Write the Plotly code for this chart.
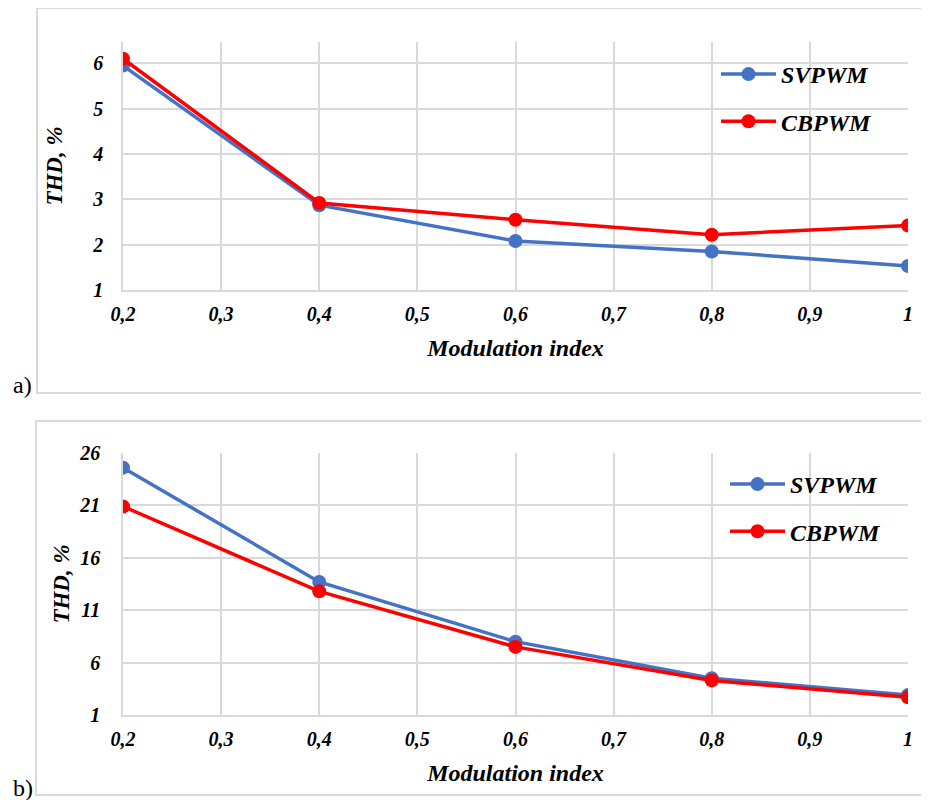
import plotly.graph_objects as go

x_vals = [0.2, 0.4, 0.6, 0.8, 1.0]
svpwm_a = [5.95, 2.87, 2.08, 1.85, 1.53]
cbpwm_a = [6.10, 2.92, 2.55, 2.22, 2.42]
svpwm_b = [24.6, 13.7, 8.0, 4.5, 2.9]
cbpwm_b = [20.9, 12.8, 7.5, 4.3, 2.7]

x_ticks = [0.2, 0.3, 0.4, 0.5, 0.6, 0.7, 0.8, 0.9, 1.0]
x_ticktext = ["0,2", "0,3", "0,4", "0,5", "0,6", "0,7", "0,8", "0,9", "1"]
y_ticks_a = [1, 2, 3, 4, 5, 6]
y_ticks_b = [1, 6, 11, 16, 21, 26]

BLUE = "#4472C4"
RED = "#FF0000"
GRID = "#d9d9d9"
FONT = "Liberation Serif"

OFF = 8  # page body margin
W, H = 929 - OFF, 800 - OFF

fig = go.Figure()

def add_pair(sv, cb, xa, ya, leg):
    fig.add_trace(go.Scatter(x=x_vals, y=sv, mode="lines+markers", name="<b><i>SVPWM</i></b>",
                             line=dict(color=BLUE, width=3.5), marker=dict(size=14, color=BLUE),
                             xaxis=xa, yaxis=ya, legend=leg, legendgroup=leg + "sv"))
    fig.add_trace(go.Scatter(x=x_vals, y=cb, mode="lines+markers", name="<b><i>CBPWM</i></b>",
                             line=dict(color=RED, width=3.5), marker=dict(size=14, color=RED),
                             xaxis=xa, yaxis=ya, legend=leg, legendgroup=leg + "cb"))

add_pair(svpwm_a, cbpwm_a, "x", "y", "legend")
add_pair(svpwm_b, cbpwm_b, "x2", "y2", "legend2")

tickfont = dict(family=FONT, size=20, color="black")
titlefont = dict(family=FONT, size=23, color="black")

def px_x(p):
    return (p - OFF) / W

def px_y(p):
    return 1 - (p - OFF) / H

xaxis_common = dict(
    range=[0.2, 1.0], tickvals=x_ticks,
    ticktext=[f"<b><i>{t}</i></b>" for t in x_ticktext],
    showgrid=True, gridcolor=GRID, gridwidth=1.5,
    showline=True, linecolor=GRID, linewidth=1.5,
    zeroline=False, ticks="", tickfont=tickfont, ticklabelstandoff=5,
    title=dict(text="<b><i>Modulation index</i></b>", font=dict(family=FONT, size=24, color="black"), standoff=15),
    domain=[px_x(123), px_x(908)], fixedrange=True, automargin=False,
)

yaxis_common = dict(
    showgrid=True, gridcolor=GRID, gridwidth=1.5,
    showline=True, linecolor=GRID, linewidth=1.5,
    zeroline=False, ticks="", tickfont=tickfont,
    fixedrange=True, automargin=False,
)

legend_common = dict(xanchor="left", yanchor="middle", bgcolor="rgba(0,0,0,0)",
                     font=dict(family=FONT, size=24, color="black"),
                     tracegroupgap=13, itemwidth=55)

fig.update_layout(
    width=W, height=H,
    margin=dict(l=0, r=0, t=0, b=0),
    paper_bgcolor="white", plot_bgcolor="white",
    font=dict(family=FONT),
    xaxis=dict(**xaxis_common, anchor="y"),
    xaxis2=dict(**xaxis_common, anchor="y2"),
    yaxis=dict(**yaxis_common, range=[1, 6.47], tickvals=y_ticks_a,
               ticktext=[f"<b><i>{v}</i></b>" for v in y_ticks_a], ticklabelstandoff=14,
               title=dict(text="<b><i>THD, %</i></b>", font=titlefont, standoff=23),
               domain=[px_y(290), px_y(42)], anchor="x"),
    yaxis2=dict(**yaxis_common, range=[1, 26], tickvals=y_ticks_b,
                ticktext=[f"<b><i>{v}</i></b>" for v in y_ticks_b], ticklabelstandoff=17,
                title=dict(text="<b><i>THD, %</i></b>", font=titlefont, standoff=3),
                domain=[px_y(715), px_y(453)], anchor="x2"),
    legend=dict(**legend_common, x=px_x(716), y=px_y(98)),
    legend2=dict(**legend_common, x=px_x(725), y=px_y(508)),
)

# frames
fig.add_shape(type="rect", xref="paper", yref="paper",
              x0=px_x(37), x1=px_x(945), y0=px_y(393), y1=px_y(8),
              line=dict(color=GRID, width=2), layer="below")
fig.add_shape(type="rect", xref="paper", yref="paper",
              x0=px_x(36), x1=px_x(945), y0=px_y(795), y1=px_y(421),
              line=dict(color=GRID, width=2), layer="below")

fig.add_annotation(text="a)", xref="paper", yref="paper", x=px_x(11), y=px_y(385),
                   xanchor="left", yanchor="middle", showarrow=False,
                   font=dict(family=FONT, size=24, color="black"))
fig.add_annotation(text="b)", xref="paper", yref="paper", x=px_x(11), y=px_y(788),
                   xanchor="left", yanchor="middle", showarrow=False,
                   font=dict(family=FONT, size=24, color="black"))

fig.write_html("out.html")
